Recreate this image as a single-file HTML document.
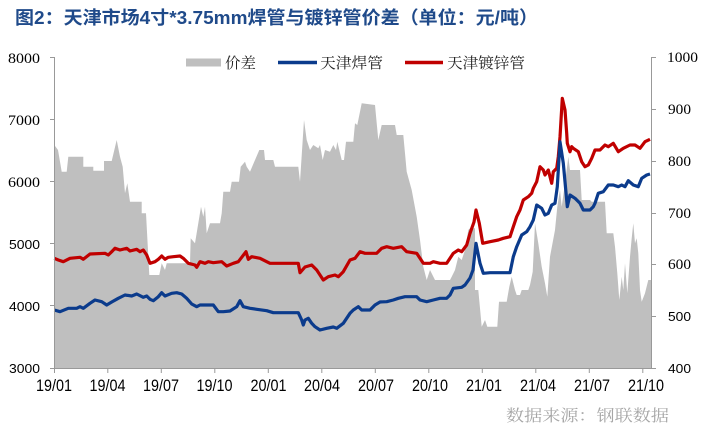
<!DOCTYPE html>
<html><head><meta charset="utf-8"><style>
html,body{margin:0;padding:0;background:#fff;}
svg{display:block;}
</style></head><body>
<svg width="702" height="430" viewBox="0 0 702 430" xmlns="http://www.w3.org/2000/svg">
<rect width="702" height="430" fill="#fff"/>
<!-- title -->
<text x="15" y="24" font-family="'Liberation Sans','Noto Sans CJK SC',sans-serif" font-weight="bold" font-size="18" fill="#1f4a8a" textLength="523" lengthAdjust="spacingAndGlyphs">图2：天津市场4寸*3.75mm焊管与镀锌管价差（单位：元/吨）</text>

<!-- gray area -->
<polygon fill="#bfbfbf" points="54.3,368 54.3,145 58,150 61.7,171.7 66.7,171.7 68.3,156.7 83.3,156.7 83.3,166.7 93.3,166.7 93.3,170.7 104,170.7 104,161 111.7,161 116.7,140 120,156.7 122.7,166.7 125,193.3 127.3,183.3 130,201.7 141.7,201.7 141.7,213.3 146,213.3 149.3,275 159.3,275 161.7,263.3 165,270 166.7,263.3 190,263.3 190.7,238.3 195,243.3 201,206.7 203.3,216.7 205,206.7 206.7,233.3 210,223.3 220,223.3 221.7,213.3 223.3,191.7 230,191.7 231.7,181.7 239,181.7 240.7,166.7 245,161.7 246.7,166.7 250,171.7 259.3,150 264,150 265,160 273.3,160 275,166.7 298.3,166.7 300,181.7 304,120 306.7,140 310,150 313.3,145 318.3,148.3 320,145 322.7,160 325,150 330,151.7 333.3,145 336,150 337.3,141.7 341.7,160 344,160 346,141.7 353.3,141.7 355,123.3 357.3,125 361.7,103.3 375,105 378.3,140 381.7,125 395,125 396.7,135 403.3,135 406.7,171.7 411.7,190 416.7,216.7 420,240 423.3,266.7 426.7,280 430,270 435,280 450,280 451.7,276.7 455,270 458.3,256.7 461.7,260 465,250 468.3,230 470,228.3 475,228.3 475,290 478.3,290 481.7,326.7 485,320 487.3,326.7 497.3,326.7 499,301.7 506.7,301.7 509.3,286.7 511.7,276.7 515,290 516.7,295 520,295 521.7,290 528.3,290 530,285 532.7,271.7 535,223.3 538.3,243.3 541.7,266.7 545,283.3 547.3,296.7 550,256.7 555,230 557.3,206.7 560,190 561.7,206.7 565,183.3 568.3,156.7 570,170 580,170 581.7,200 590,200 591.7,201.7 605,201.7 606.7,233.3 613.3,233.3 615,246.7 617.3,273.3 619.3,300 621.7,276.7 623.3,290 625,263.3 627.3,293.3 630,256.7 631.7,238.3 633.3,223.3 635,243.3 636.7,238.3 638.3,253.3 640,290 641.7,301.7 645,293.3 648.3,280 651.7,280 651.7,368"/>

<!-- red line -->
<polyline fill="none" stroke="#c00000" stroke-width="3.2" stroke-linejoin="round" points="54.3,258.3 58.3,260 63.3,261.7 70,258.3 80,257.3 83.3,259.3 90,254 105,253.3 108.3,255 111.7,251.7 115,248.3 120,250 126.7,248.3 130,251 136.7,249.3 140,251.7 143.3,250 146.7,255 150,263.3 155,261.7 158.3,259.3 161.7,256 165,259.3 168.3,257.3 173.3,256.7 180,256 183.3,258.3 188.3,263.3 195,265 196.7,267.3 200,261.7 205,263.3 208.3,261.7 213.3,262.7 221.7,261.7 226.7,266 233.3,263.3 238.3,261.7 241.7,257.3 246,251.7 248.3,259.3 251.7,256.7 260,258.3 266.7,261.7 270,263.3 298.3,263.3 300,272.7 305,267 311.7,265 316.7,270 323.3,280 328.3,276.7 335,275 338.3,276.7 343.3,271.7 350,260 355,258.3 360,251.7 365,253.3 376.7,253.3 381.7,248.3 386.7,246.7 393.3,248.3 401.7,246.7 406.7,251.7 416.7,253.3 420,258.3 423.3,263.3 430,263.3 433.3,261.7 440,263.3 446.7,263.3 450,258.3 453.3,253.3 458.3,250 461.7,251.7 466.7,245 470,233.3 474,222 476,210 479.3,223.3 482.7,243.3 490,241.7 498.3,240 503.3,238.3 510,236.7 513.3,226.7 516.7,216.7 520,210 523.3,200 528.3,196.7 531.7,193.3 533.3,188.3 536.7,181.7 540,166.7 543.3,170 545,175 548.3,170 551.7,183.3 553.3,171.7 556.7,168.3 558.3,156.7 560,137 562.3,98.3 565,110 566.7,133.3 567.3,143.3 570,151.7 571.7,146.7 573.3,148.3 578.3,151.7 581.7,161.7 585,166.7 588.3,165 591.7,158.3 595,150 600,150 605,145 608.3,146.7 613.3,143.3 618.3,151.7 623.3,148.3 630,145 635,145 640,148.3 645,141.7 650,139.3"/>

<!-- blue line -->
<polyline fill="none" stroke="#0b3b8c" stroke-width="3.2" stroke-linejoin="round" points="54.3,310 60,311.7 68.3,308.3 76.7,308.3 80,306.7 83.3,308.3 90,303.3 95,300 101.7,301.7 106.7,305 111.7,302 118.3,298.3 125,295 131.7,296 136.7,294 143.3,297.3 146.7,296 150,299.3 153.3,300.7 158.3,296.7 161.7,292.7 165,296 171.7,293.3 176.7,292.7 181.7,294 186.7,298.3 191.7,304 196.7,306.7 200,305 213.3,305 218.3,311.7 223.3,311.7 230,311 236.7,306.7 240,300.7 243.3,306.7 250,308.3 256.7,309.3 266.7,310.7 273.3,312.7 298.3,312.7 301.7,320 303.3,325 305,320 308.3,318.3 311.7,323.3 315,326.7 320,330 326.7,328.3 333.3,327 336.7,328.3 343.3,323.3 350,313.3 353.3,310 358.3,306.7 361.7,310 370,310 375,305 380,302 386.7,301.7 393.3,300 398.3,298.3 405,296.7 416.7,296.7 420,300 426.7,301.7 433.3,300 440,298.3 446.7,298.3 450,295 453.3,288.3 461.7,287.3 465,285 470,278 473,270 476,243.3 480,263.3 483.3,273.3 490,272.7 510,272.7 513.3,256.7 516.7,246.7 521.7,235 526.7,231.7 530,226.7 533.3,220 536.7,205 541.7,208.3 545,215 548.3,213.3 551.7,205 555,203.3 557.3,186.7 560,141.7 563.3,163.3 567.3,206.7 570,195 575,198.3 580,203.3 583.3,210 590,210 593.3,206.7 595,203.3 598.3,193.3 603.3,191.7 608.3,185 613.3,185 618.3,186.7 621.7,185 625,186.7 628.3,180.7 633.3,185 638.3,186.7 641.7,178.3 646.7,175 650,174"/>

<!-- axes -->
<g stroke="#999" stroke-width="1" fill="none">
<line x1="54.5" y1="57" x2="54.5" y2="368.5"/>
<line x1="651.5" y1="57" x2="651.5" y2="368.5"/>
<line x1="54" y1="368.5" x2="652" y2="368.5"/>
<line x1="50" y1="57.5" x2="54.5" y2="57.5"/>
<line x1="50" y1="119.5" x2="54.5" y2="119.5"/>
<line x1="50" y1="181.5" x2="54.5" y2="181.5"/>
<line x1="50" y1="243.5" x2="54.5" y2="243.5"/>
<line x1="50" y1="305.5" x2="54.5" y2="305.5"/>
<line x1="50" y1="368.5" x2="54.5" y2="368.5"/>
<line x1="651.5" y1="57.5" x2="656" y2="57.5"/>
<line x1="651.5" y1="109.5" x2="656" y2="109.5"/>
<line x1="651.5" y1="161.5" x2="656" y2="161.5"/>
<line x1="651.5" y1="213.5" x2="656" y2="213.5"/>
<line x1="651.5" y1="264.5" x2="656" y2="264.5"/>
<line x1="651.5" y1="316.5" x2="656" y2="316.5"/>
<line x1="651.5" y1="368.5" x2="656" y2="368.5"/>
<line x1="54.5" y1="368" x2="54.5" y2="373"/>
<line x1="107.8" y1="368" x2="107.8" y2="373"/>
<line x1="161.3" y1="368" x2="161.3" y2="373"/>
<line x1="214.8" y1="368" x2="214.8" y2="373"/>
<line x1="268.3" y1="368" x2="268.3" y2="373"/>
<line x1="321.8" y1="368" x2="321.8" y2="373"/>
<line x1="375.3" y1="368" x2="375.3" y2="373"/>
<line x1="428.8" y1="368" x2="428.8" y2="373"/>
<line x1="482.3" y1="368" x2="482.3" y2="373"/>
<line x1="535.8" y1="368" x2="535.8" y2="373"/>
<line x1="589.3" y1="368" x2="589.3" y2="373"/>
<line x1="642.8" y1="368" x2="642.8" y2="373"/>
</g>

<!-- left labels -->
<g font-size="15" fill="#000" text-anchor="end">
<text x="40" y="63" font-family="'Liberation Serif',serif" textLength="32" lengthAdjust="spacingAndGlyphs">8000</text>
<text x="40" y="125" font-family="'Liberation Serif',serif" textLength="32" lengthAdjust="spacingAndGlyphs">7000</text>
<text x="40" y="187" font-family="'Liberation Serif',serif" textLength="32" lengthAdjust="spacingAndGlyphs">6000</text>
<text x="40" y="249" font-family="'Liberation Sans',sans-serif" font-size="13" textLength="31" lengthAdjust="spacingAndGlyphs">5000</text>
<text x="40" y="311" font-family="'Liberation Sans',sans-serif" font-size="13" textLength="31" lengthAdjust="spacingAndGlyphs">4000</text>
<text x="40" y="373" font-family="'Liberation Sans',sans-serif" font-size="13" textLength="31" lengthAdjust="spacingAndGlyphs">3000</text>
</g>
<!-- right labels -->
<g font-size="15" fill="#000" font-family="'Liberation Serif',serif">
<text x="667" y="62" textLength="31" lengthAdjust="spacingAndGlyphs">1000</text>
<text x="668" y="114" textLength="23" lengthAdjust="spacingAndGlyphs">900</text>
<text x="668" y="166" textLength="23" lengthAdjust="spacingAndGlyphs">800</text>
<text x="668" y="218" textLength="23" lengthAdjust="spacingAndGlyphs">700</text>
<text x="668" y="269" textLength="23" lengthAdjust="spacingAndGlyphs">600</text>
<text x="668" y="321" font-family="'Liberation Sans',sans-serif" font-size="13" textLength="23" lengthAdjust="spacingAndGlyphs">500</text>
<text x="668" y="373" font-family="'Liberation Sans',sans-serif" font-size="13" textLength="23" lengthAdjust="spacingAndGlyphs">400</text>
</g>
<!-- x labels -->
<g font-family="'Liberation Sans',sans-serif" font-size="17" fill="#000" text-anchor="middle">
<text x="54" y="391" textLength="36" lengthAdjust="spacingAndGlyphs">19/01</text>
<text x="107.5" y="391" textLength="36" lengthAdjust="spacingAndGlyphs">19/04</text>
<text x="161" y="391" textLength="36" lengthAdjust="spacingAndGlyphs">19/07</text>
<text x="214.5" y="391" textLength="36" lengthAdjust="spacingAndGlyphs">19/10</text>
<text x="268.5" y="391" textLength="36" lengthAdjust="spacingAndGlyphs">20/01</text>
<text x="322" y="391" textLength="36" lengthAdjust="spacingAndGlyphs">20/04</text>
<text x="376" y="391" textLength="36" lengthAdjust="spacingAndGlyphs">20/07</text>
<text x="430" y="391" textLength="36" lengthAdjust="spacingAndGlyphs">20/10</text>
<text x="484" y="391" textLength="36" lengthAdjust="spacingAndGlyphs">21/01</text>
<text x="538" y="391" textLength="36" lengthAdjust="spacingAndGlyphs">21/04</text>
<text x="592" y="391" textLength="36" lengthAdjust="spacingAndGlyphs">21/07</text>
<text x="646" y="391" textLength="36" lengthAdjust="spacingAndGlyphs">21/10</text>
</g>

<!-- legend -->
<rect x="186" y="58.5" width="35" height="8" fill="#bfbfbf"/>
<text x="225" y="68" font-family="'Liberation Serif','Noto Serif CJK SC',serif" font-size="15" fill="#222" textLength="31" lengthAdjust="spacingAndGlyphs">价差</text>
<line x1="278" y1="62.5" x2="317" y2="62.5" stroke="#0b3b8c" stroke-width="3.5"/>
<text x="320" y="68" font-family="'Liberation Serif','Noto Serif CJK SC',serif" font-size="15" fill="#222" textLength="63" lengthAdjust="spacingAndGlyphs">天津焊管</text>
<line x1="405" y1="62.5" x2="443" y2="62.5" stroke="#c00000" stroke-width="3.5"/>
<text x="447" y="68" font-family="'Liberation Serif','Noto Serif CJK SC',serif" font-size="15" fill="#222" textLength="78" lengthAdjust="spacingAndGlyphs">天津镀锌管</text>

<!-- source -->
<text x="506" y="421" font-family="'Liberation Serif','Noto Serif CJK SC',serif" font-size="16" fill="#a6a6a6" textLength="163" lengthAdjust="spacingAndGlyphs">数据来源：钢联数据</text>
</svg>
</body></html>
